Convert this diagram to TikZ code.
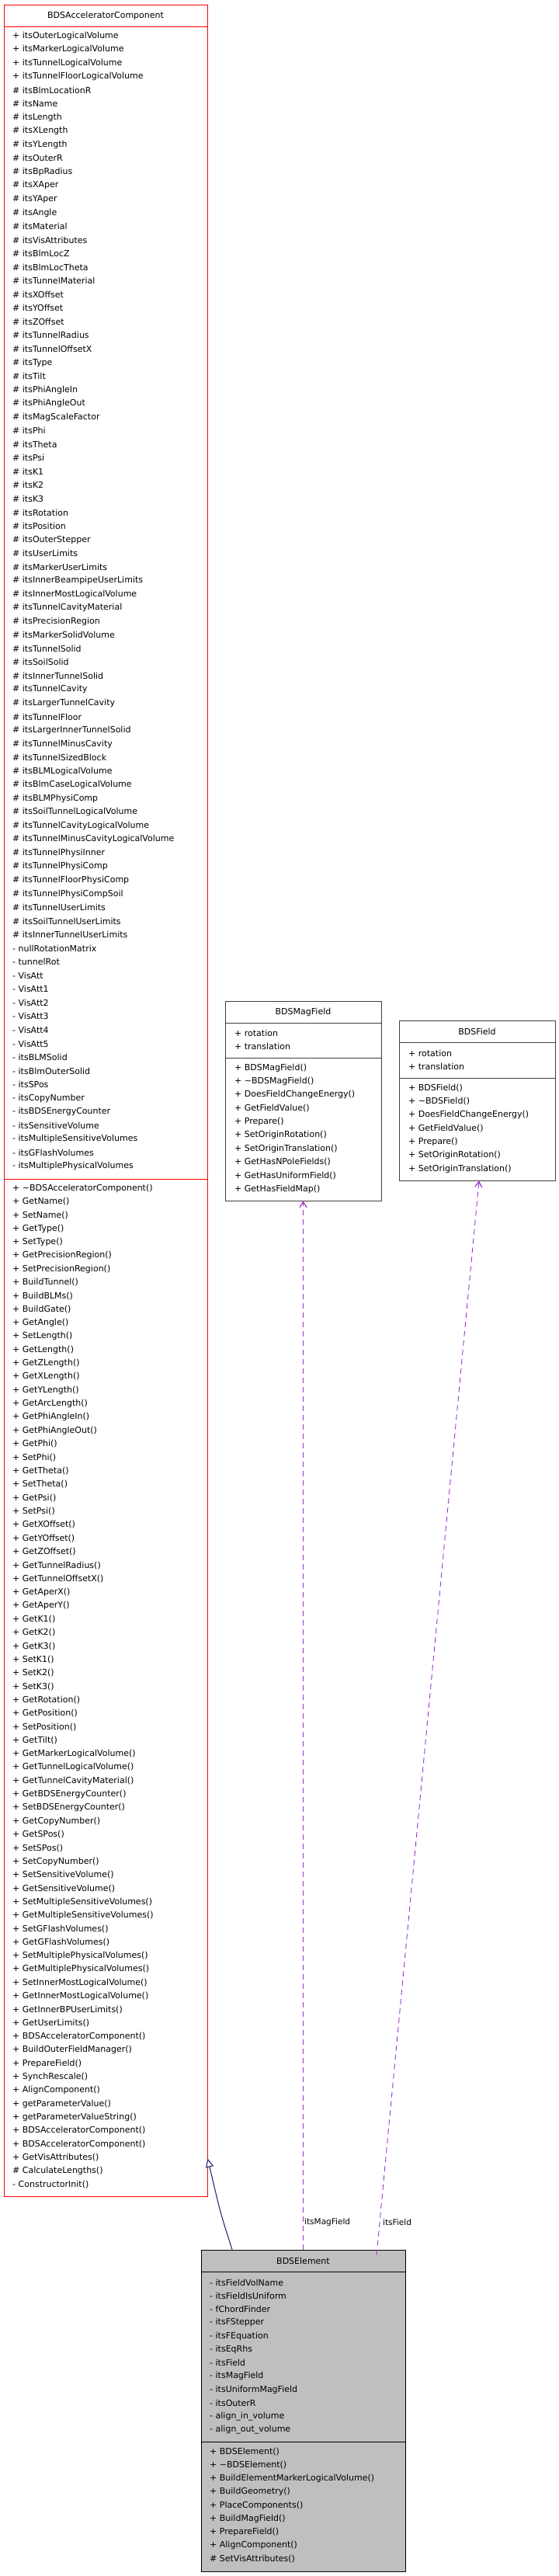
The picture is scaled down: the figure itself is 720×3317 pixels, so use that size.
\documentclass[tikz,border=0pt]{standalone}
\usepackage{fontspec}
\setmainfont{DejaVu Sans}
\usetikzlibrary{arrows.meta}
\definecolor{edgeblue}{HTML}{191970}
\definecolor{edgepurple}{HTML}{9A32CD}
\definecolor{boxgrey}{HTML}{404040}
\tikzset{
  boxtext/.style={anchor=west,inner sep=0pt,font=\fontsize{11}{12}\selectfont},
  titletext/.style={inner sep=0pt,font=\fontsize{11}{12}\selectfont},
  classbox/.style={draw=boxgrey,line width=1pt,inner sep=0pt},
  usedash/.style={draw=edgepurple,line width=0.9pt,dash pattern=on 7pt off 5pt,
    -{Straight Barb[length=7pt,width=9pt,line width=1.2pt]}},
  inherit/.style={draw=edgeblue,line width=1pt,-{Triangle[open,length=11pt,width=10pt,fill=white]}}
}
\newcommand{\ttl}{\textasciitilde}
\begin{document}
\begin{tikzpicture}[x=1pt,y=-1pt]
\useasboundingbox (0,0) rectangle (720,3317);
% ---------- BDSAcceleratorComponent
\node[classbox,draw=red,minimum width=262pt,minimum height=2822pt] (acc) at (136,1417) {};
\draw[red,line width=1pt] (5,34) -- (267,34) (5,1518) -- (267,1518);
\node[titletext] (acct) at (136,20) {BDSAcceleratorComponent};
\foreach \t [count=\i from 0] in {+ itsOuterLogicalVolume,+ itsMarkerLogicalVolume,+ itsTunnelLogicalVolume,+ itsTunnelFloorLogicalVolume,\# itsBlmLocationR,\# itsName,\# itsLength,\# itsXLength,\# itsYLength,\# itsOuterR,\# itsBpRadius,\# itsXAper,\# itsYAper,\# itsAngle,\# itsMaterial,\# itsVisAttributes,\# itsBlmLocZ,\# itsBlmLocTheta,\# itsTunnelMaterial,\# itsXOffset,\# itsYOffset,\# itsZOffset,\# itsTunnelRadius,\# itsTunnelOffsetX,\# itsType,\# itsTilt,\# itsPhiAngleIn,\# itsPhiAngleOut,\# itsMagScaleFactor,\# itsPhi,\# itsTheta,\# itsPsi,\# itsK1,\# itsK2,\# itsK3,\# itsRotation,\# itsPosition,\# itsOuterStepper,\# itsUserLimits,\# itsMarkerUserLimits,\# itsInnerBeampipeUserLimits,\# itsInnerMostLogicalVolume,\# itsTunnelCavityMaterial,\# itsPrecisionRegion,\# itsMarkerSolidVolume,\# itsTunnelSolid,\# itsSoilSolid,\# itsInnerTunnelSolid,\# itsTunnelCavity,\# itsLargerTunnelCavity,\# itsTunnelFloor,\# itsLargerInnerTunnelSolid,\# itsTunnelMinusCavity,\# itsTunnelSizedBlock,\# itsBLMLogicalVolume,\# itsBlmCaseLogicalVolume,\# itsBLMPhysiComp,\# itsSoilTunnelLogicalVolume,\# itsTunnelCavityLogicalVolume,\# itsTunnelMinusCavityLogicalVolume,\# itsTunnelPhysiInner,\# itsTunnelPhysiComp,\# itsTunnelFloorPhysiComp,\# itsTunnelPhysiCompSoil,\# itsTunnelUserLimits,\# itsSoilTunnelUserLimits,\# itsInnerTunnelUserLimits,- nullRotationMatrix,- tunnelRot,- VisAtt,- VisAtt1,- VisAtt2,- VisAtt3,- VisAtt4,- VisAtt5,- itsBLMSolid,- itsBlmOuterSolid,- itsSPos,- itsCopyNumber,- itsBDSEnergyCounter,- itsSensitiveVolume,- itsMultipleSensitiveVolumes,- itsGFlashVolumes,- itsMultiplePhysicalVolumes}
  \node[boxtext] (acca\i) at (16,46+17.54*\i) {\t};
\foreach \t [count=\i from 0] in {+ \ttl BDSAcceleratorComponent(),+ GetName(),+ SetName(),+ GetType(),+ SetType(),+ GetPrecisionRegion(),+ SetPrecisionRegion(),+ BuildTunnel(),+ BuildBLMs(),+ BuildGate(),+ GetAngle(),+ SetLength(),+ GetLength(),+ GetZLength(),+ GetXLength(),+ GetYLength(),+ GetArcLength(),+ GetPhiAngleIn(),+ GetPhiAngleOut(),+ GetPhi(),+ SetPhi(),+ GetTheta(),+ SetTheta(),+ GetPsi(),+ SetPsi(),+ GetXOffset(),+ GetYOffset(),+ GetZOffset(),+ GetTunnelRadius(),+ GetTunnelOffsetX(),+ GetAperX(),+ GetAperY(),+ GetK1(),+ GetK2(),+ GetK3(),+ SetK1(),+ SetK2(),+ SetK3(),+ GetRotation(),+ GetPosition(),+ SetPosition(),+ GetTilt(),+ GetMarkerLogicalVolume(),+ GetTunnelLogicalVolume(),+ GetTunnelCavityMaterial(),+ GetBDSEnergyCounter(),+ SetBDSEnergyCounter(),+ GetCopyNumber(),+ GetSPos(),+ SetSPos(),+ SetCopyNumber(),+ SetSensitiveVolume(),+ GetSensitiveVolume(),+ SetMultipleSensitiveVolumes(),+ GetMultipleSensitiveVolumes(),+ SetGFlashVolumes(),+ GetGFlashVolumes(),+ SetMultiplePhysicalVolumes(),+ GetMultiplePhysicalVolumes(),+ SetInnerMostLogicalVolume(),+ GetInnerMostLogicalVolume(),+ GetInnerBPUserLimits(),+ GetUserLimits(),+ BDSAcceleratorComponent(),+ BuildOuterFieldManager(),+ PrepareField(),+ SynchRescale(),+ AlignComponent(),+ getParameterValue(),+ getParameterValueString(),+ BDSAcceleratorComponent(),+ BDSAcceleratorComponent(),+ GetVisAttributes(),\# CalculateLengths(),- ConstructorInit()}
  \node[boxtext] (accm\i) at (16,1530+17.34*\i) {\t};
% ---------- BDSMagField
\node[classbox,minimum width=201pt,minimum height=257pt] (mag) at (390.5,1417.5) {};
\draw[boxgrey,line width=1pt] (290,1317) -- (491,1317) (290,1362) -- (491,1362);
\node[titletext] (magt) at (390.5,1303) {BDSMagField};
\foreach \t [count=\i from 0] in {+ rotation,+ translation}
  \node[boxtext] (maga\i) at (302,1330+17*\i) {\t};
\foreach \t [count=\i from 0] in {+ BDSMagField(),+ \ttl BDSMagField(),+ DoesFieldChangeEnergy(),+ GetFieldValue(),+ Prepare(),+ SetOriginRotation(),+ SetOriginTranslation(),+ GetHasNPoleFields(),+ GetHasUniformField(),+ GetHasFieldMap()}
  \node[boxtext] (magm\i) at (302,1375+17.33*\i) {\t};
% ---------- BDSField
\node[classbox,minimum width=201pt,minimum height=206pt] (fld) at (614.5,1417) {};
\draw[boxgrey,line width=1pt] (514,1342) -- (715,1342) (514,1388) -- (715,1388);
\node[titletext] (fldt) at (614.5,1328) {BDSField};
\foreach \t [count=\i from 0] in {+ rotation,+ translation}
  \node[boxtext] (flda\i) at (526,1356+17*\i) {\t};
\foreach \t [count=\i from 0] in {+ BDSField(),+ \ttl BDSField(),+ DoesFieldChangeEnergy(),+ GetFieldValue(),+ Prepare(),+ SetOriginRotation(),+ SetOriginTranslation()}
  \node[boxtext] (fldm\i) at (526,1401+17.33*\i) {\t};
% ---------- BDSElement
\node[classbox,draw=black,fill=gray!50,minimum width=263pt,minimum height=414pt] (elem) at (390.5,3104) {};
\draw[black,line width=1pt] (259,2925) -- (522,2925) (259,3144) -- (522,3144);
\node[titletext] (elemt) at (390.5,2911) {BDSElement};
\foreach \t [count=\i from 0] in {- itsFieldVolName,- itsFieldIsUniform,- fChordFinder,- itsFStepper,- itsFEquation,- itsEqRhs,- itsField,- itsMagField,- itsUniformMagField,- itsOuterR,- align\_in\_volume,- align\_out\_volume}
  \node[boxtext] (elema\i) at (270,2939+17.27*\i) {\t};
\foreach \t [count=\i from 0] in {+ BDSElement(),+ \ttl BDSElement(),+ BuildElementMarkerLogicalVolume(),+ BuildGeometry(),+ PlaceComponents(),+ BuildMagField(),+ PrepareField(),+ AlignComponent(),\# SetVisAttributes()}
  \node[boxtext] (elemm\i) at (270,3157+17.25*\i) {\t};
% ---------- connectors
\draw[inherit] ([xshift=-91.5pt]elem.north) .. controls (284,2850) .. ([yshift=49pt]acc.south east);
\draw[usedash] (elem.north) -- (mag.south);
\draw[usedash] ([xshift=94.5pt,yshift=-7pt]elem.north) -- ([xshift=2.5pt]fld.south);
\node[boxtext,font=\fontsize{10.5}{12}\selectfont] (lmag) at (392,2862) {itsMagField};
\node[boxtext,font=\fontsize{10.5}{12}\selectfont] (lfld) at (493,2862) {itsField};
\end{tikzpicture}
\end{document}
